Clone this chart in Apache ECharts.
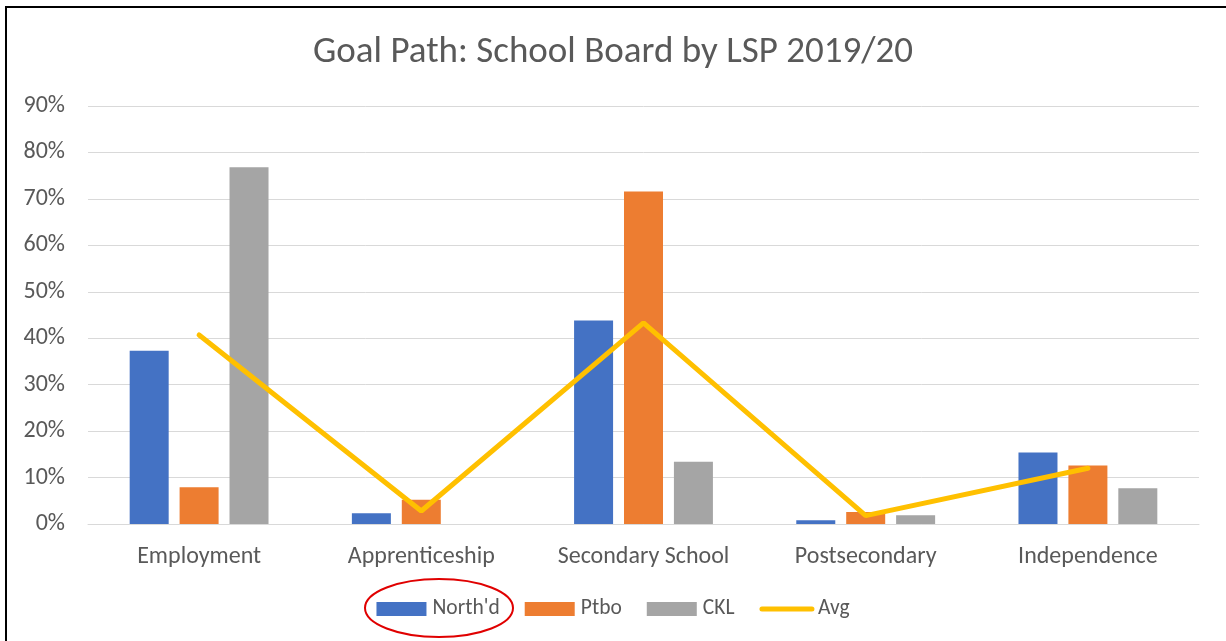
<!DOCTYPE html>
<html>
<head>
<meta charset="utf-8">
<script src="https://cdn.jsdelivr.net/npm/echarts@6/dist/echarts.min.js"></script>
<style>
html,body{margin:0;padding:0;background:#fff;}
#main{width:1226px;height:641px;}
</style>
</head>
<body>
<div id="main"></div>
<script>
// 数据
let categories = ["Employment", "Apprenticeship", "Secondary School", "Postsecondary", "Independence"];
let northd = [37.3, 2.3, 43.8, 0.8, 15.4];
let ptbo = [7.9, 5.2, 71.6, 2.6, 12.6];
let ckl = [76.8, 0, 13.4, 1.9, 7.7];
let avg = [40.7, 2.8, 43.3, 1.8, 12.0];
let yTicks = [0, 10, 20, 30, 40, 50, 60, 70, 80, 90];

let chart = echarts.init(document.getElementById("main"));
let font = "Calibri, Carlito, 'Noto Sans', sans-serif";

let option = {
    backgroundColor: '#fff',
    animation: false,
    title: {
        text: "Goal Path: School Board by LSP 2019/20",
        left: 'center',
        top: 29,
        textStyle: {color: '#595959', fontSize: 37, fontWeight: 'normal', fontFamily: font}
    },
    legend: {
        bottom: 16,
        left: 'center',
        itemWidth: 50,
        itemHeight: 14,
        itemGap: 25,
        textStyle: {color: '#595959', fontSize: 21.5, fontFamily: font, padding: [0, 0, 0, 1]},
        data: [
            {name: "North'd", icon: 'rect'},
            {name: "Ptbo", icon: 'rect'},
            {name: "CKL", icon: 'rect'},
            {name: "Avg", itemStyle: {opacity: 0}, lineStyle: {width: 5, color: '#FFC000', cap: 'round'}}
        ]
    },
    grid: {left: 88, right: 27, top: 106, bottom: 117},
    xAxis: {
        type: 'category',
        data: categories,
        axisLine: {show: true, lineStyle: {color: '#d9d9d9', width: 1}},
        axisTick: {show: false},
        axisLabel: {color: '#595959', fontSize: 24, fontFamily: font, margin: 21, interval: 0}
    },
    yAxis: {
        type: 'value',
        min: yTicks[0],
        max: yTicks[yTicks.length - 1],
        interval: 10,
        axisLine: {show: false},
        axisTick: {show: false},
        splitLine: {lineStyle: {color: '#d9d9d9', width: 1}},
        axisLabel: {color: '#595959', fontSize: 24, fontFamily: font, margin: 23, formatter: v => v + '%'}
    },
    series: [
        {name: "North'd", type: 'bar', data: northd, barWidth: 39, barGap: '28%', itemStyle: {color: '#4472C4'}},
        {name: "Ptbo", type: 'bar', data: ptbo, barWidth: 39, barGap: '28%', itemStyle: {color: '#ED7D31'}},
        {name: "CKL", type: 'bar', data: ckl, barWidth: 39, barGap: '28%', itemStyle: {color: '#A5A5A5'}},
        {name: "Avg", type: 'line', data: avg, symbol: 'none', lineStyle: {color: '#FFC000', width: 5, cap: 'round'}, itemStyle: {color: '#FFC000'}, z: 5}
    ],
    graphic: [
        // 外框
        {type: 'rect', silent: true, shape: {x: 6, y: 7, width: 1400, height: 800}, style: {fill: 'none', stroke: '#000', lineWidth: 2}},
        // 红色椭圆
        {type: 'ellipse', silent: true, shape: {cx: 439, cy: 608, rx: 74, ry: 29}, style: {fill: 'none', stroke: '#E00000', lineWidth: 2}, z: 10}
    ]
};
chart.setOption(option);
</script>
</body>
</html>
